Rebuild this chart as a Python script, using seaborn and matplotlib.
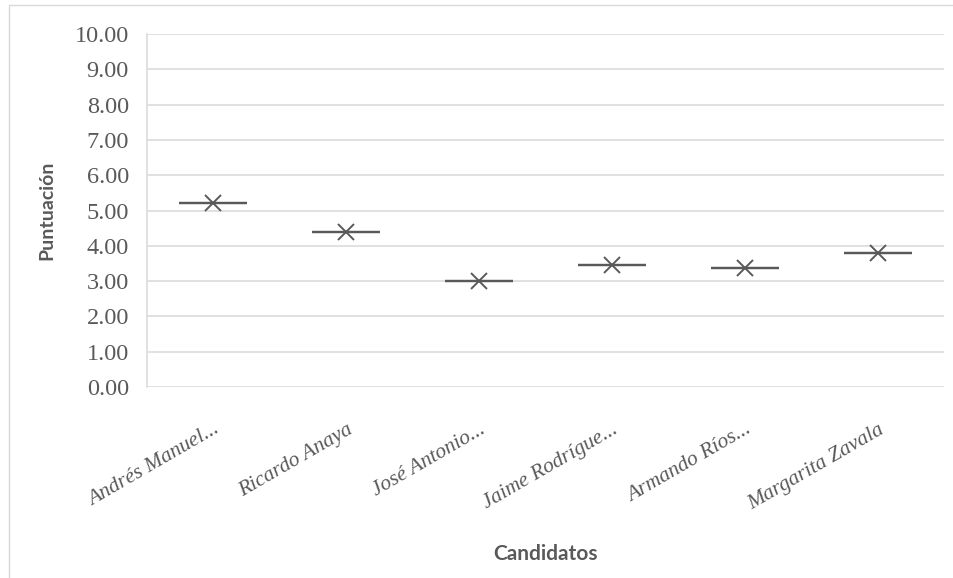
import matplotlib
matplotlib.use("Agg")
import matplotlib.pyplot as plt
import seaborn as sns
import pandas as pd
from matplotlib.patches import Rectangle

# values (one score per candidate)
candidatos = ["Andrés Manuel...", "Ricardo Anaya", "José Antonio...",
              "Jaime Rodrígue...", "Armando Ríos...", "Margarita Zavala"]
puntuacion = [5.21, 4.40, 3.01, 3.45, 3.36, 3.80]
y_ticks = [0, 1, 2, 3, 4, 5, 6, 7, 8, 9, 10]

df = pd.DataFrame({"Candidatos": candidatos, "Puntuacion": puntuacion})

sns.set_style("white")
gray = "#595959"
grid = "#d9d9d9"

fig = plt.figure(figsize=(9.54, 5.78), dpi=100)
ax = fig.add_axes([0.154, 0.3304, 0.836, 0.6106])

sns.boxplot(data=df, x="Candidatos", y="Puntuacion", ax=ax, width=0.51,
            color="white", linecolor=gray, linewidth=1.6, showcaps=False,
            showfliers=False, showmeans=True,
            meanprops=dict(marker="x", markeredgecolor=gray, markersize=12,
                           markeredgewidth=1.4),
            zorder=3)

ax.set_ylim(0, 10)
ax.set_yticks(y_ticks)
ax.set_yticklabels(["{:.2f}".format(v) for v in y_ticks],
                   fontfamily="Liberation Serif", fontsize=17.5, color=gray)
ax.set_xlim(-0.5, len(candidatos) - 0.5)
ax.set_xticks(range(len(candidatos)))
ax.set_xticklabels(candidatos, rotation=30, ha="right", va="top",
                   rotation_mode="anchor", fontfamily="Liberation Serif",
                   style="italic", fontsize=15.5, color=gray)
ax.tick_params(axis="x", length=0, pad=24)
ax.tick_params(axis="y", length=0, pad=13)

ax.yaxis.grid(True, color=grid, linewidth=1.1, zorder=0)
ax.set_axisbelow(True)
for s in ["top", "right", "bottom"]:
    ax.spines[s].set_visible(False)
ax.spines["left"].set_color(grid)
ax.spines["left"].set_linewidth(1.1)

ax.set_xlabel("Candidatos", fontfamily="Lato", fontweight="bold",
              fontsize=15, color=gray, labelpad=22)
ax.set_ylabel("Puntuación", fontfamily="Lato", fontweight="bold",
              fontsize=14, color=gray, labelpad=14)

# chart frame
fig.patches.append(Rectangle((9 / 954, -0.1), 1.2, 1 - 5 / 578 + 0.1,
                             transform=fig.transFigure, fill=False,
                             edgecolor=grid, linewidth=1.0))

fig.savefig("out.png", dpi=100)
